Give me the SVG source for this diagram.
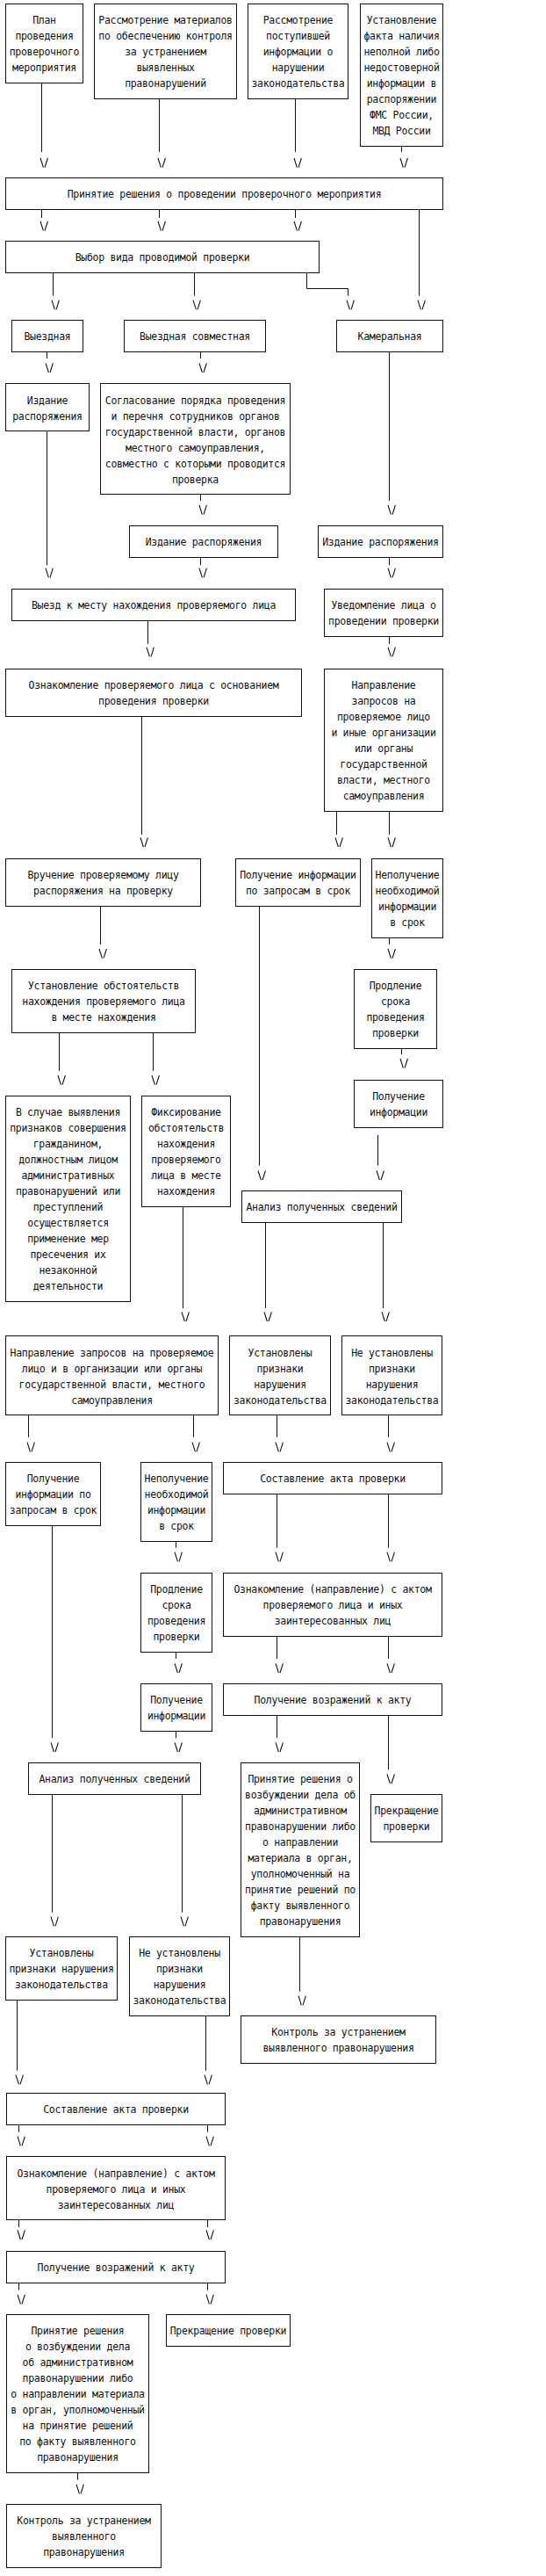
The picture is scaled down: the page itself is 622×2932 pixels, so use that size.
<svg xmlns="http://www.w3.org/2000/svg" xmlns:xlink="http://www.w3.org/1999/xlink" width="622" height="2932" viewBox="0 0 622 2932">
<style>
.b{fill:#fff;stroke:#111;stroke-width:1}
.t{font-family:"DejaVu Sans Mono",monospace;font-size:11.5px;letter-spacing:-0.3px;fill:#111;text-anchor:middle}
.c path{stroke:#111;stroke-width:1;fill:none}
.ah{stroke:#111;stroke-width:1.1;fill:none}
</style>
<defs>
<path id="ah" class="ah" d="M-4.2,0 L-0.8,10.7 M0.8,10.7 L4.2,0"/>
</defs>
<rect width="622" height="2932" fill="#fff"/>
<g id="connectors" class="c">
<path d="M47.5 94.5V173M181.5 112.5V173M336.5 112.5V173M457.5 166.5V173"/>
<path d="M47.5 238.5V248M181.5 238.5V248M336.5 238.5V248M477.5 238.5V336.7"/>
<path d="M60.5 310.5V336.7M221.5 310.5V336.7M349.5 310.5V328.5H396.5V336.7"/>
<path d="M53.5 400.5V408M228.5 400.5V408M443.5 400.5V570"/>
<path d="M53.5 490.5V643.3M228.5 562.5V570M228.5 634.5V643.3M443.5 634.5V643.3"/>
<path d="M168.5 706.5V733M443.5 724.5V733"/>
<path d="M161.5 815.5V950M383.5 923.5V950M443.5 923.5V950"/>
<path d="M114.5 1031.5V1075M295.5 1031.5V1326.7M443.5 1067.5V1075"/>
<path d="M67.5 1175.5V1219M174.5 1175.5V1219M457.5 1193.5V1200M430.5 1291.7V1326.7"/>
<path d="M208.5 1373.5V1489M302.5 1391.5V1489M436.5 1391.5V1489"/>
<path d="M32.5 1610.5V1635.7M220.5 1610.5V1635.7M315.5 1610.5V1635.7M442.5 1610.5V1635.7"/>
<path d="M59.5 1736.5V1978.3M200.5 1754.5V1761.7M315.5 1700.5V1761.7M442.5 1700.5V1761.7"/>
<path d="M200.5 1880.5V1888M315.5 1862.5V1888M442.5 1862.5V1888"/>
<path d="M200.5 1970.5V1978.3M315.5 1952.5V1978.3M442.5 1952.5V2014.3"/>
<path d="M59.5 2042.5V2176.7M207.5 2042.5V2176.7M341.5 2204.5V2266.7"/>
<path d="M19.5 2276.5V2356.7M234.5 2294.5V2356.7"/>
<path d="M21.5 2418.5V2426.7M236.5 2418.5V2426.7M21.5 2526.5V2535M236.5 2526.5V2535M21.5 2598.5V2606.7M236.5 2598.5V2606.7M88.5 2814.5V2822.7"/>
<use href="#ah" x="50.2" y="180"/><use href="#ah" x="184.2" y="180"/><use href="#ah" x="339.2" y="180"/><use href="#ah" x="460.2" y="180"/>
<use href="#ah" x="50.2" y="252"/><use href="#ah" x="184.2" y="252"/><use href="#ah" x="339.2" y="252"/>
<use href="#ah" x="63.2" y="341.7"/><use href="#ah" x="224.2" y="341.7"/><use href="#ah" x="399.2" y="341.7"/><use href="#ah" x="480.2" y="341.7"/>
<use href="#ah" x="56.2" y="413.3"/><use href="#ah" x="231.2" y="413.3"/>
<use href="#ah" x="231.2" y="575"/><use href="#ah" x="446.2" y="575"/>
<use href="#ah" x="56.2" y="646.7"/><use href="#ah" x="231.2" y="646.7"/><use href="#ah" x="446.2" y="646.7"/>
<use href="#ah" x="171.2" y="736.7"/><use href="#ah" x="446.2" y="736.7"/>
<use href="#ah" x="164.2" y="953.3"/><use href="#ah" x="386.2" y="953.3"/><use href="#ah" x="446.2" y="953.3"/>
<use href="#ah" x="117.2" y="1080"/><use href="#ah" x="446.2" y="1080"/>
<use href="#ah" x="460.2" y="1205"/>
<use href="#ah" x="70.2" y="1224"/><use href="#ah" x="177.2" y="1224"/>
<use href="#ah" x="298.2" y="1332.5"/><use href="#ah" x="433.2" y="1332.5"/>
<use href="#ah" x="211.2" y="1493.3"/><use href="#ah" x="305.2" y="1493.3"/><use href="#ah" x="439.2" y="1493.3"/>
<use href="#ah" x="35.2" y="1641.7"/><use href="#ah" x="223.2" y="1641.7"/><use href="#ah" x="318.2" y="1641.7"/><use href="#ah" x="445.2" y="1641.7"/>
<use href="#ah" x="203.2" y="1766.7"/><use href="#ah" x="318.2" y="1766.7"/><use href="#ah" x="445.2" y="1766.7"/>
<use href="#ah" x="203.2" y="1893.3"/><use href="#ah" x="318.2" y="1893.3"/><use href="#ah" x="445.2" y="1893.3"/>
<use href="#ah" x="62.2" y="1983.3"/><use href="#ah" x="203.2" y="1983.3"/><use href="#ah" x="318.2" y="1983.3"/><use href="#ah" x="445.2" y="2019.3"/>
<use href="#ah" x="62.2" y="2181.7"/><use href="#ah" x="210.2" y="2181.7"/><use href="#ah" x="344.2" y="2271.7"/>
<use href="#ah" x="22.2" y="2361.7"/><use href="#ah" x="237.2" y="2361.7"/>
<use href="#ah" x="24.2" y="2431.7"/><use href="#ah" x="239.2" y="2431.7"/>
<use href="#ah" x="24.2" y="2538.3"/><use href="#ah" x="239.2" y="2538.3"/>
<use href="#ah" x="24.2" y="2611.7"/><use href="#ah" x="239.2" y="2611.7"/>
<use href="#ah" x="91.2" y="2827.7"/>
</g>
<g id="n1"><rect class="b" x="6.5" y="4.5" width="88" height="90"/><text class="t"><tspan x="50.5" y="27.2">План</tspan><tspan x="50.5" dy="18">проведения</tspan><tspan x="50.5" dy="18">проверочного</tspan><tspan x="50.5" dy="18">мероприятия</tspan></text></g>
<g id="n2"><rect class="b" x="107.5" y="4.5" width="162" height="108"/><text class="t"><tspan x="188.5" y="27.2">Рассмотрение материалов</tspan><tspan x="188.5" dy="18">по обеспечению контроля</tspan><tspan x="188.5" dy="18">за устранением</tspan><tspan x="188.5" dy="18">выявленных</tspan><tspan x="188.5" dy="18">правонарушений</tspan></text></g>
<g id="n3"><rect class="b" x="282.5" y="4.5" width="114" height="108"/><text class="t"><tspan x="339.5" y="27.2">Рассмотрение</tspan><tspan x="339.5" dy="18">поступившей</tspan><tspan x="339.5" dy="18">информации о</tspan><tspan x="339.5" dy="18">нарушении</tspan><tspan x="339.5" dy="18">законодательства</tspan></text></g>
<g id="n4"><rect class="b" x="410.5" y="4.5" width="94" height="162"/><text class="t"><tspan x="457.5" y="27.2">Установление</tspan><tspan x="457.5" dy="18">факта наличия</tspan><tspan x="457.5" dy="18">неполной либо</tspan><tspan x="457.5" dy="18">недостоверной</tspan><tspan x="457.5" dy="18">информации в</tspan><tspan x="457.5" dy="18">распоряжении</tspan><tspan x="457.5" dy="18">ФМС России,</tspan><tspan x="457.5" dy="18">МВД России</tspan></text></g>
<g id="n5"><rect class="b" x="6.5" y="202.5" width="498" height="36"/><text class="t"><tspan x="255.5" y="225.2">Принятие решения о проведении проверочного мероприятия</tspan></text></g>
<g id="n6"><rect class="b" x="6.5" y="274.5" width="357" height="36"/><text class="t"><tspan x="185" y="297.2">Выбор вида проводимой проверки</tspan></text></g>
<g id="n7"><rect class="b" x="13.5" y="364.5" width="81" height="36"/><text class="t"><tspan x="54" y="387.2">Выездная</tspan></text></g>
<g id="n8"><rect class="b" x="141.5" y="364.5" width="161" height="36"/><text class="t"><tspan x="222" y="387.2">Выездная совместная</tspan></text></g>
<g id="n9"><rect class="b" x="383.5" y="364.5" width="121" height="36"/><text class="t"><tspan x="444" y="387.2">Камеральная</tspan></text></g>
<g id="n10"><rect class="b" x="6.5" y="436.5" width="95" height="54"/><text class="t"><tspan x="54" y="459.5">Издание</tspan><tspan x="54" dy="18">распоряжения</tspan></text></g>
<g id="n11"><rect class="b" x="114.5" y="436.5" width="216" height="126"/><text class="t"><tspan x="222.5" y="459.5">Согласование порядка проведения</tspan><tspan x="222.5" dy="18">и перечня сотрудников органов</tspan><tspan x="222.5" dy="18">государственной власти, органов</tspan><tspan x="222.5" dy="18">местного самоуправления,</tspan><tspan x="222.5" dy="18">совместно с которыми проводится</tspan><tspan x="222.5" dy="18">проверка</tspan></text></g>
<g id="n12"><rect class="b" x="147.5" y="598.5" width="169" height="36"/><text class="t"><tspan x="232" y="621.2">Издание распоряжения</tspan></text></g>
<g id="n13"><rect class="b" x="362.5" y="598.5" width="142" height="36"/><text class="t"><tspan x="433.5" y="621.2">Издание распоряжения</tspan></text></g>
<g id="n14"><rect class="b" x="13.5" y="670.5" width="323" height="36"/><text class="t"><tspan x="175" y="693.2">Выезд к месту нахождения проверяемого лица</tspan></text></g>
<g id="n15"><rect class="b" x="369.5" y="670.5" width="135" height="54"/><text class="t"><tspan x="437" y="693.2">Уведомление лица о</tspan><tspan x="437" dy="18">проведении проверки</tspan></text></g>
<g id="n16"><rect class="b" x="6.5" y="761.5" width="337" height="54"/><text class="t"><tspan x="175" y="783.8">Ознакомление проверяемого лица с основанием</tspan><tspan x="175" dy="18">проведения проверки</tspan></text></g>
<g id="n17"><rect class="b" x="369.5" y="761.5" width="135" height="162"/><text class="t"><tspan x="437" y="783.8">Направление</tspan><tspan x="437" dy="18">запросов на</tspan><tspan x="437" dy="18">проверяемое лицо</tspan><tspan x="437" dy="18">и иные организации</tspan><tspan x="437" dy="18">или органы</tspan><tspan x="437" dy="18">государственной</tspan><tspan x="437" dy="18">власти, местного</tspan><tspan x="437" dy="18">самоуправления</tspan></text></g>
<g id="n18"><rect class="b" x="6.5" y="977.5" width="222" height="54"/><text class="t"><tspan x="117.5" y="1000.2">Вручение проверяемому лицу</tspan><tspan x="117.5" dy="18">распоряжения на проверку</tspan></text></g>
<g id="n19"><rect class="b" x="268.5" y="977.5" width="142" height="54"/><text class="t"><tspan x="339.5" y="1000.2">Получение информации</tspan><tspan x="339.5" dy="18">по запросам в срок</tspan></text></g>
<g id="n20"><rect class="b" x="423.5" y="977.5" width="81" height="90"/><text class="t"><tspan x="464" y="1000.2">Неполучение</tspan><tspan x="464" dy="18">необходимой</tspan><tspan x="464" dy="18">информации</tspan><tspan x="464" dy="18">в срок</tspan></text></g>
<g id="n21"><rect class="b" x="13.5" y="1103.5" width="209" height="72"/><text class="t"><tspan x="118" y="1126.2">Установление обстоятельств</tspan><tspan x="118" dy="18">нахождения проверяемого лица</tspan><tspan x="118" dy="18">в месте нахождения</tspan></text></g>
<g id="n22"><rect class="b" x="403.5" y="1103.5" width="94" height="90"/><text class="t"><tspan x="450.5" y="1126.2">Продление</tspan><tspan x="450.5" dy="18">срока</tspan><tspan x="450.5" dy="18">проведения</tspan><tspan x="450.5" dy="18">проверки</tspan></text></g>
<g id="n23"><rect class="b" x="403.5" y="1229.5" width="101" height="54"/><text class="t"><tspan x="454" y="1252.2">Получение</tspan><tspan x="454" dy="18">информации</tspan></text></g>
<g id="n24"><rect class="b" x="6.5" y="1247.5" width="142" height="234"/><text class="t"><tspan x="77.5" y="1270.2">В случае выявления</tspan><tspan x="77.5" dy="18">признаков совершения</tspan><tspan x="77.5" dy="18">гражданином,</tspan><tspan x="77.5" dy="18">должностным лицом</tspan><tspan x="77.5" dy="18">административных</tspan><tspan x="77.5" dy="18">правонарушений или</tspan><tspan x="77.5" dy="18">преступлений</tspan><tspan x="77.5" dy="18">осуществляется</tspan><tspan x="77.5" dy="18">применение мер</tspan><tspan x="77.5" dy="18">пресечения их</tspan><tspan x="77.5" dy="18">незаконной</tspan><tspan x="77.5" dy="18">деятельности</tspan></text></g>
<g id="n25"><rect class="b" x="161.5" y="1247.5" width="101" height="126"/><text class="t"><tspan x="212" y="1270.2">Фиксирование</tspan><tspan x="212" dy="18">обстоятельств</tspan><tspan x="212" dy="18">нахождения</tspan><tspan x="212" dy="18">проверяемого</tspan><tspan x="212" dy="18">лица в месте</tspan><tspan x="212" dy="18">нахождения</tspan></text></g>
<g id="n26"><rect class="b" x="275.5" y="1355.5" width="182" height="36"/><text class="t"><tspan x="366.5" y="1377.8">Анализ полученных сведений</tspan></text></g>
<g id="n27"><rect class="b" x="6.5" y="1520.5" width="242" height="90"/><text class="t"><tspan x="127.5" y="1543.5">Направление запросов на проверяемое</tspan><tspan x="127.5" dy="18">лицо и в организации или органы</tspan><tspan x="127.5" dy="18">государственной власти, местного</tspan><tspan x="127.5" dy="18">самоуправления</tspan></text></g>
<g id="n28"><rect class="b" x="261.5" y="1520.5" width="115" height="90"/><text class="t"><tspan x="319" y="1543.5">Установлены</tspan><tspan x="319" dy="18">признаки</tspan><tspan x="319" dy="18">нарушения</tspan><tspan x="319" dy="18">законодательства</tspan></text></g>
<g id="n29"><rect class="b" x="389.5" y="1520.5" width="114" height="90"/><text class="t"><tspan x="446.5" y="1543.5">Не установлены</tspan><tspan x="446.5" dy="18">признаки</tspan><tspan x="446.5" dy="18">нарушения</tspan><tspan x="446.5" dy="18">законодательства</tspan></text></g>
<g id="n30"><rect class="b" x="6.5" y="1664.5" width="108" height="72"/><text class="t"><tspan x="60.5" y="1687.2">Получение</tspan><tspan x="60.5" dy="18">информации по</tspan><tspan x="60.5" dy="18">запросам в срок</tspan></text></g>
<g id="n31"><rect class="b" x="160.5" y="1664.5" width="81" height="90"/><text class="t"><tspan x="201" y="1687.2">Неполучение</tspan><tspan x="201" dy="18">необходимой</tspan><tspan x="201" dy="18">информации</tspan><tspan x="201" dy="18">в срок</tspan></text></g>
<g id="n32"><rect class="b" x="254.5" y="1664.5" width="249" height="36"/><text class="t"><tspan x="379" y="1687.2">Составление акта проверки</tspan></text></g>
<g id="n33"><rect class="b" x="160.5" y="1790.5" width="81" height="90"/><text class="t"><tspan x="201" y="1813.2">Продление</tspan><tspan x="201" dy="18">срока</tspan><tspan x="201" dy="18">проведения</tspan><tspan x="201" dy="18">проверки</tspan></text></g>
<g id="n34"><rect class="b" x="254.5" y="1790.5" width="249" height="72"/><text class="t"><tspan x="379" y="1813.2">Ознакомление (направление) с актом</tspan><tspan x="379" dy="18">проверяемого лица и иных</tspan><tspan x="379" dy="18">заинтересованных лиц</tspan></text></g>
<g id="n35"><rect class="b" x="160.5" y="1916.5" width="81" height="54"/><text class="t"><tspan x="201" y="1939.2">Получение</tspan><tspan x="201" dy="18">информации</tspan></text></g>
<g id="n36"><rect class="b" x="254.5" y="1916.5" width="249" height="36"/><text class="t"><tspan x="379" y="1939.2">Получение возражений к акту</tspan></text></g>
<g id="n37"><rect class="b" x="32.5" y="2006.5" width="196" height="36"/><text class="t"><tspan x="130.5" y="2028.8">Анализ полученных сведений</tspan></text></g>
<g id="n38"><rect class="b" x="274.5" y="2006.5" width="135" height="198"/><text class="t"><tspan x="342" y="2028.8">Принятие решения о</tspan><tspan x="342" dy="18">возбуждении дела об</tspan><tspan x="342" dy="18">административном</tspan><tspan x="342" dy="18">правонарушении либо</tspan><tspan x="342" dy="18">о направлении</tspan><tspan x="342" dy="18">материала в орган,</tspan><tspan x="342" dy="18">уполномоченный на</tspan><tspan x="342" dy="18">принятие решений по</tspan><tspan x="342" dy="18">факту выявленного</tspan><tspan x="342" dy="18">правонарушения</tspan></text></g>
<g id="n39"><rect class="b" x="422.5" y="2042.5" width="81" height="54"/><text class="t"><tspan x="463" y="2065.2">Прекращение</tspan><tspan x="463" dy="18">проверки</tspan></text></g>
<g id="n40"><rect class="b" x="6.5" y="2204.5" width="127" height="72"/><text class="t"><tspan x="70" y="2227.2">Установлены</tspan><tspan x="70" dy="18">признаки нарушения</tspan><tspan x="70" dy="18">законодательства</tspan></text></g>
<g id="n41"><rect class="b" x="147.5" y="2204.5" width="114" height="90"/><text class="t"><tspan x="204.5" y="2227.2">Не установлены</tspan><tspan x="204.5" dy="18">признаки</tspan><tspan x="204.5" dy="18">нарушения</tspan><tspan x="204.5" dy="18">законодательства</tspan></text></g>
<g id="n42"><rect class="b" x="274.5" y="2294.5" width="222" height="54"/><text class="t"><tspan x="385.5" y="2317.2">Контроль за устранением</tspan><tspan x="385.5" dy="18">выявленного правонарушения</tspan></text></g>
<g id="n43"><rect class="b" x="7.5" y="2382.5" width="249" height="36"/><text class="t"><tspan x="132" y="2405.2">Составление акта проверки</tspan></text></g>
<g id="n44"><rect class="b" x="7.5" y="2454.5" width="249" height="72"/><text class="t"><tspan x="132" y="2477.5">Ознакомление (направление) с актом</tspan><tspan x="132" dy="18">проверяемого лица и иных</tspan><tspan x="132" dy="18">заинтересованных лиц</tspan></text></g>
<g id="n45"><rect class="b" x="7.5" y="2562.5" width="249" height="36"/><text class="t"><tspan x="132" y="2585.2">Получение возражений к акту</tspan></text></g>
<g id="n46"><rect class="b" x="7.5" y="2634.5" width="162" height="180"/><text class="t"><tspan x="88.5" y="2657.2">Принятие решения</tspan><tspan x="88.5" dy="18">о возбуждении дела</tspan><tspan x="88.5" dy="18">об административном</tspan><tspan x="88.5" dy="18">правонарушении либо</tspan><tspan x="88.5" dy="18">о направлении материала</tspan><tspan x="88.5" dy="18">в орган, уполномоченный</tspan><tspan x="88.5" dy="18">на принятие решений</tspan><tspan x="88.5" dy="18">по факту выявленного</tspan><tspan x="88.5" dy="18">правонарушения</tspan></text></g>
<g id="n47"><rect class="b" x="189.5" y="2634.5" width="141" height="36"/><text class="t"><tspan x="260" y="2657.2">Прекращение проверки</tspan></text></g>
<g id="n48"><rect class="b" x="7.5" y="2850.5" width="176" height="72"/><text class="t"><tspan x="95.5" y="2873.2">Контроль за устранением</tspan><tspan x="95.5" dy="18">выявленного</tspan><tspan x="95.5" dy="18">правонарушения</tspan></text></g>
</svg>
